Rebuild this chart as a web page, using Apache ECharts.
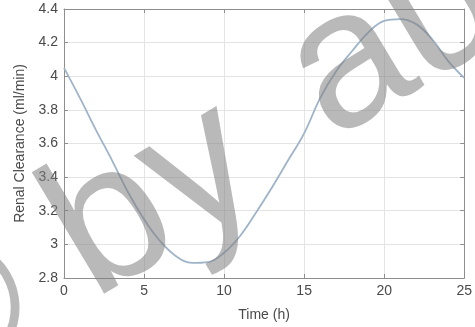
<!DOCTYPE html>
<html>
<head>
<meta charset="utf-8">
<script src="https://cdn.jsdelivr.net/npm/echarts@6/dist/echarts.min.js"></script>
<style>
  html, body { margin: 0; padding: 0; background: #fff; }
  #chart { width: 475px; height: 327px; }
</style>
</head>
<body>
<div id="chart"></div>
<script>
// time in hours and renal clearance (ml/min)
const timeHours = [0, 1, 2, 3, 4, 5, 6, 7, 8, 9, 10, 11, 12, 13, 14, 15, 16, 17, 18, 19, 20, 21, 22, 23, 24, 25];
const clearance = [4.05, 3.87, 3.68, 3.50, 3.31, 3.15, 3.02, 2.93, 2.89, 2.895, 2.95, 3.05, 3.19, 3.34, 3.50, 3.66, 3.87, 4.03, 4.15, 4.26, 4.33, 4.34, 4.31, 4.22, 4.09, 3.99];

const xTicks = { min: 0, max: 25, interval: 5 };
const yTicks = { min: 2.8, max: 4.4, interval: 0.2 };

const chart = echarts.init(document.getElementById('chart'));

const fontFamily = '"Liberation Sans", Arial, sans-serif';
const frameColor = '#8e8e8e';
const textColor = '#4a4a4a';

const frameAxis = (extra) => Object.assign({
  type: 'value',
  axisLine: { show: true, onZero: false, lineStyle: { color: frameColor, width: 1 } },
  axisTick: { show: true, inside: true, length: 4, lineStyle: { color: frameColor } },
  axisLabel: { show: false },
  splitLine: { show: false }
}, extra);

// big rotated watermark text over the figure
const watermark = (text, x, y) => ({
  type: 'text',
  x, y,
  rotation: 31 * Math.PI / 180,
  z: 100,
  silent: true,
  style: {
    text,
    fontSize: 195,
    fontFamily,
    fill: 'rgba(128,128,128,0.55)',
    align: 'left',
    verticalAlign: 'middle'
  }
});

const option = {
  animation: false,
  grid: { left: 64, top: 9, right: 4, bottom: 44, containLabel: false },
  xAxis: [
    frameAxis({
      position: 'bottom',
      min: xTicks.min, max: xTicks.max, interval: xTicks.interval,
      axisLabel: { show: true, color: textColor, fontSize: 14, fontFamily, margin: 6 },
      splitLine: { show: true, lineStyle: { color: '#e4e4e4', width: 1 } },
      name: 'Time (h)',
      nameLocation: 'middle',
      nameGap: 30,
      nameTextStyle: { color: textColor, fontSize: 14, fontFamily }
    }),
    frameAxis({ position: 'top', min: xTicks.min, max: xTicks.max, interval: xTicks.interval })
  ],
  yAxis: [
    frameAxis({
      position: 'left',
      min: yTicks.min, max: yTicks.max, interval: yTicks.interval,
      axisLabel: { show: true, color: textColor, fontSize: 14, fontFamily, margin: 6,
        formatter: v => String(Math.round(v * 10) / 10) },
      splitLine: { show: true, lineStyle: { color: '#e4e4e4', width: 1 } },
      name: 'Renal Clearance (ml/min)',
      nameLocation: 'middle',
      nameGap: 37,
      nameTextStyle: { color: textColor, fontSize: 14, fontFamily }
    }),
    frameAxis({ position: 'right', min: yTicks.min, max: yTicks.max, interval: yTicks.interval })
  ],
  series: [
    {
      type: 'line',
      data: timeHours.map((t, i) => [t, clearance[i]]),
      smooth: 0.4,
      symbol: 'none',
      clip: true,
      lineStyle: { color: '#9fb4c9', width: 1.8 }
    }
  ],
  graphic: [
    watermark('\u00a9 by', -104, 356),
    watermark('author', 304, 95)
  ]
};

chart.setOption(option);
</script>
</body>
</html>
